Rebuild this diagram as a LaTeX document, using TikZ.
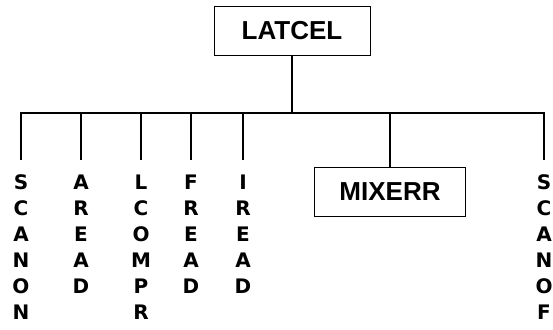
\documentclass[tikz,border=0pt]{standalone}
\usepackage{fontspec}
\setmainfont{Liberation Sans}
\newfontfamily\widefont{DejaVu Sans}
\usepackage{tikz}
\usetikzlibrary{positioning}

\begin{document}
\begin{tikzpicture}[x=1pt, y=1pt, line width=1.4pt,
  box/.style={draw, line width=1pt, minimum height=49pt, font=\bfseries\fontsize{26}{30}\selectfont},
  col/.style={anchor=north, align=center, inner xsep=0pt, inner ysep=14pt, font=\widefont\bfseries\fontsize{20}{26}\selectfont}]
  \useasboundingbox (0,0) rectangle (553,329);
  \node[box, minimum width=156pt] (latcel) at (292,298) {LATCEL};
  \node[box, minimum width=151pt] (mixerr) at (390,137) {MIXERR};
  \coordinate (bl) at (21,216);
  \coordinate (br) at (544,216);
  % vertical names
  \node[col] (scanon) at (21,169) {S\\C\\A\\N\\O\\N};
  \node[col] (aread) at (81,169) {A\\R\\E\\A\\D};
  \node[col] (lcompr) at (141,169) {L\\C\\O\\M\\P\\R};
  \node[col] (fread) at (191,169) {F\\R\\E\\A\\D};
  \node[col] (iread) at (243,169) {I\\R\\E\\A\\D};
  \node[col] (scanof) at (544,169) {S\\C\\A\\N\\O\\F};
  % bus and drops
  \draw (latcel.south) -- (latcel.south |- bl);
  \draw (scanon.north) -- (bl) -- (br) -- (scanof.north);
  \draw (aread.north |- bl) -- (aread.north);
  \draw (lcompr.north |- bl) -- (lcompr.north);
  \draw (fread.north |- bl) -- (fread.north);
  \draw (iread.north |- bl) -- (iread.north);
  \draw (mixerr.north |- bl) -- (mixerr.north);
\end{tikzpicture}
\end{document}
